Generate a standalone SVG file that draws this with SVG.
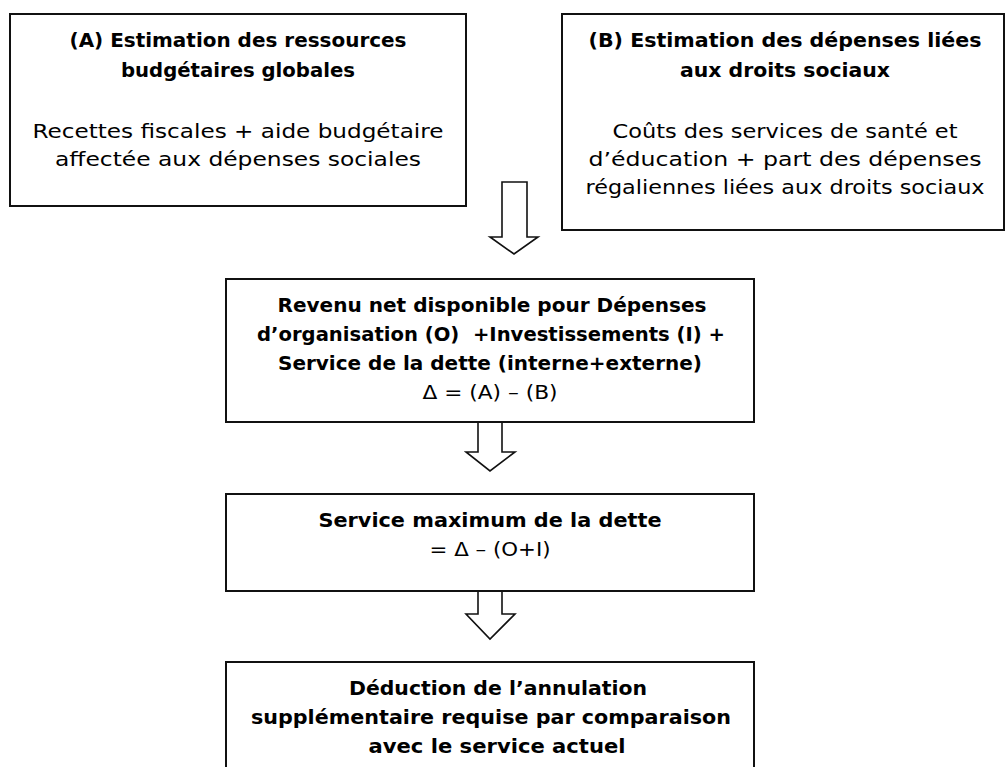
<svg xmlns="http://www.w3.org/2000/svg" width="1005" height="767" viewBox="0 0 1005 767">
<style>
.box{fill:#fff;stroke:#111;stroke-width:2}
.arr{fill:#fff;stroke:#111;stroke-width:1.6;stroke-linejoin:miter}
text{font-family:"DejaVu Sans","Liberation Sans",sans-serif;font-size:20px;fill:#000;text-anchor:middle}
.b{font-weight:bold}
</style>
<rect width="1005" height="767" fill="#fff"/>
<g id="nodeA">
<rect class="box" x="10" y="14" width="456" height="192"/>
<text class="b" x="238" y="47" textLength="337" lengthAdjust="spacingAndGlyphs">(A) Estimation des ressources</text>
<text class="b" x="238" y="77" textLength="234" lengthAdjust="spacingAndGlyphs">budgétaires globales</text>
<text x="238" y="138" textLength="411" lengthAdjust="spacingAndGlyphs">Recettes fiscales + aide budgétaire</text>
<text x="238" y="166" textLength="366" lengthAdjust="spacingAndGlyphs">affectée aux dépenses sociales</text>
</g>
<g id="nodeB">
<rect class="box" x="562" y="14" width="442" height="216"/>
<text class="b" x="785" y="47" textLength="393" lengthAdjust="spacingAndGlyphs">(B) Estimation des dépenses liées</text>
<text class="b" x="785" y="77" textLength="210" lengthAdjust="spacingAndGlyphs">aux droits sociaux</text>
<text x="785" y="138" textLength="345" lengthAdjust="spacingAndGlyphs">Coûts des services de santé et</text>
<text x="785" y="166" textLength="393" lengthAdjust="spacingAndGlyphs">d’éducation + part des dépenses</text>
<text x="785" y="194" textLength="399" lengthAdjust="spacingAndGlyphs">régaliennes liées aux droits sociaux</text>
</g>
<g id="nodeRevenu">
<rect class="box" x="226" y="279" width="528" height="143"/>
<text class="b" x="492" y="312" textLength="429" lengthAdjust="spacingAndGlyphs">Revenu net disponible pour Dépenses</text>
<text class="b" x="491" y="341" textLength="468" lengthAdjust="spacingAndGlyphs" xml:space="preserve">d’organisation (O)  +Investissements (I) +</text>
<text class="b" x="490" y="370" textLength="424" lengthAdjust="spacingAndGlyphs">Service de la dette (interne+externe)</text>
<text x="490" y="399" textLength="135" lengthAdjust="spacingAndGlyphs">Δ = (A) – (B)</text>
</g>
<g id="nodeService">
<rect class="box" x="226" y="494" width="528" height="97"/>
<text class="b" x="490" y="527" textLength="343" lengthAdjust="spacingAndGlyphs">Service maximum de la dette</text>
<text x="490" y="556" textLength="121" lengthAdjust="spacingAndGlyphs">= Δ – (O+I)</text>
</g>
<g id="nodeDeduction">
<rect class="box" x="226" y="662" width="528" height="120"/>
<text class="b" x="498" y="695" textLength="298" lengthAdjust="spacingAndGlyphs">Déduction de l’annulation</text>
<text class="b" x="491" y="724" textLength="480" lengthAdjust="spacingAndGlyphs">supplémentaire requise par comparaison</text>
<text class="b" x="497" y="753" textLength="257" lengthAdjust="spacingAndGlyphs">avec le service actuel</text>
</g>
<g id="connectors">
<path class="arr" d="M502,182 H527 V237 H538 L514,254 L490,237 H502 Z"/>
<path class="arr" d="M478,423 V452 H466 L490,471 L515,452 H502 V423"/>
<path class="arr" d="M478,592 V614 H466 L490,639 L515,614 H502 V592"/>
</g>
</svg>
